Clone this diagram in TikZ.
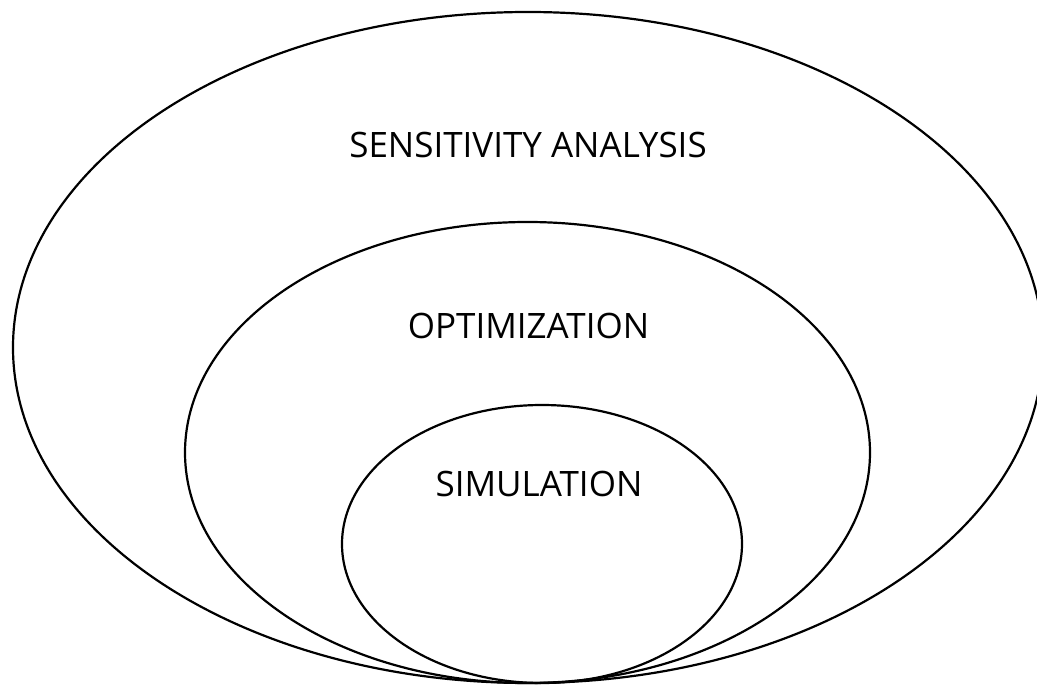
\documentclass[tikz,border=0pt]{standalone}
\usepackage{fontspec}
\setmainfont{Open Sans}
\begin{document}
\begin{tikzpicture}[x=1pt,y=-1pt,
  ring/.style={draw=black,line width=2.2pt},
  lab/.style={font=\fontsize{35}{40}\selectfont,inner sep=0pt,anchor=base}]
\useasboundingbox (0,0) rectangle (1037,687);
\clip (0,0) rectangle (1037,687);
\fill[white] (0,0) rectangle (1037,687);
\draw[ring] (528,347.5) ellipse [x radius=515,y radius=335.5];
\draw[ring] (527.5,452.5) ellipse [x radius=342.5,y radius=230.5];
\draw[ring] (542,544) ellipse [x radius=200,y radius=139];
\node[lab] (sa) at (528,158) {SENSITIVITY ANALYSIS};
\node[lab] (opt) at (528.5,338) {OPTIMIZATION};
\node[lab] (sim) at (539,496) {SIMULATION};
\end{tikzpicture}
\end{document}
